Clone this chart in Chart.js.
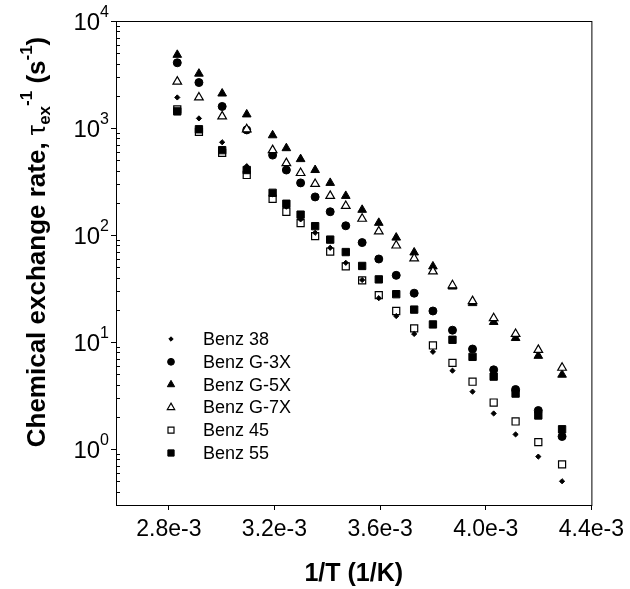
<!DOCTYPE html>
<html>
<head>
<meta charset="utf-8">
<script src="https://cdn.jsdelivr.net/npm/chart.js@4"></script>
<style>
  html, body { margin: 0; padding: 0; background: #fff; }
</style>
</head>
<body>
<canvas id="chart" width="630" height="589"></canvas>
<script>
// 1/T values (1/K), one per measured temperature
const invT = [2.832e-3, 2.914e-3, 3.002e-3, 3.095e-3, 3.193e-3, 3.245e-3, 3.299e-3, 3.354e-3, 3.411e-3, 3.470e-3,
  3.532e-3, 3.595e-3, 3.661e-3, 3.729e-3, 3.800e-3, 3.874e-3, 3.950e-3, 4.030e-3, 4.113e-3, 4.199e-3, 4.289e-3];

// exchange rates (s^-1)
const benz38 = [1930, 1230, 736, 440, 240, 184, 140, 105, 76, 55, 38, 25.7, 17.5, 11.9, 8.1, 5.4, 3.44, 2.15, 1.37, 0.85, 0.50];
const benzG3X = [4070, 2660, 1590, 960, 558, 405, 307, 227, 165, 122, 85, 59.7, 42, 28.6, 19.5, 12.9, 8.6, 5.5, 3.6, 2.29, 1.31];
const benzG5X = [4830, 3220, 2100, 1340, 855, 648, 512, 405, 307, 232, 172, 130, 94.6, 68.7, 50.9, 33, 23.1, 15.4, 10.9, 7.43, 4.95];
const benzG7X = [2715, 1930, 1284, 973, 621, 470, 380, 300, 232, 187, 142, 108, 79.8, 60.4, 45.7, 33.9, 24.1, 16.7, 11.9, 8.45, 5.75];
const benz45 = [1490, 920, 585, 364, 218, 165, 129, 97.7, 70.1, 50.9, 37.7, 27.4, 19.5, 13.4, 9.29, 6.39, 4.26, 2.72, 1.81, 1.16, 0.72];
const benz55 = [1430, 973, 621, 405, 248, 196, 155, 121, 90.6, 69.3, 51.4, 38.5, 28, 20.1, 14.6, 10.5, 7.27, 4.75, 3.30, 2.06, 1.53];

const labels = ['Benz 38', 'Benz G-3X', 'Benz G-5X', 'Benz G-7X', 'Benz 45', 'Benz 55'];
const xTicks = [2.8e-3, 3.2e-3, 3.6e-3, 4.0e-3, 4.4e-3];
const yTicks = [1, 10, 100, 1000, 10000];
const yExp = ['0', '1', '2', '3', '4'];

const FONT = 'Arial, "Liberation Sans", Helvetica, sans-serif';

const styles = [
  { pointStyle: 'rectRot', radius: 2.6, bg: '#000', bw: 1, order: 0 },
  { pointStyle: 'circle', radius: 4, bg: '#000', bw: 1, order: 3 },
  { pointStyle: 'triangle', radius: 5, bg: '#000', bw: 1, order: 2 },
  { pointStyle: 'triangle', radius: 5, bg: '#fff', bw: 1.2, order: 1 },
  { pointStyle: 'rect', radius: 5, bg: '#fff', bw: 1.2, order: 5 },
  { pointStyle: 'rect', radius: 5.2, bg: '#000', bw: 1, order: 4 }
];
const series = [benz38, benzG3X, benzG5X, benzG7X, benz45, benz55];

const datasets = series.map((vals, i) => ({
  label: labels[i],
  data: vals.map((v, j) => ({ x: invT[j], y: v })),
  pointStyle: styles[i].pointStyle,
  pointRadius: styles[i].radius,
  pointBackgroundColor: styles[i].bg,
  pointBorderColor: '#000',
  pointBorderWidth: styles[i].bw,
  showLine: false,
  order: styles[i].order
}));

function richText(ctx, parts) {
  let w = 0;
  parts.forEach(p => { ctx.font = p.font; p.w = ctx.measureText(p.t).width; w += p.w; });
  let x = -w / 2;
  parts.forEach(p => {
    ctx.font = p.font;
    ctx.fillText(p.t, x, p.dy || 0);
    x += p.w;
  });
}

const decor = {
  id: 'decor',
  afterDraw(chart) {
    const ctx = chart.ctx;
    const a = chart.chartArea;
    const ys = chart.scales.y;
    ctx.save();
    ctx.strokeStyle = '#000';
    ctx.lineWidth = 1;
    ctx.strokeRect(a.left + 0.5, a.top + 0.5, a.right - a.left, a.bottom - a.top);

    // minor log ticks, inward
    ctx.beginPath();
    for (let k = -1; k < 4; k++) {
      for (let m = 2; m < 10; m++) {
        const v = m * Math.pow(10, k);
        if (v < ys.min || v > ys.max) continue;
        const py = Math.round(ys.getPixelForValue(v)) + 0.5;
        ctx.moveTo(a.left, py);
        ctx.lineTo(a.left + 4, py);
      }
    }
    ctx.stroke();

    // y tick labels 10^n
    ctx.fillStyle = '#000';
    ctx.textBaseline = 'middle';
    yTicks.forEach((v, i) => {
      const py = ys.getPixelForValue(v);
      ctx.font = '16px ' + FONT;
      const ew = ctx.measureText(yExp[i]).width;
      ctx.textAlign = 'right';
      ctx.fillText(yExp[i], 109, py - 8);
      ctx.font = '24px ' + FONT;
      ctx.fillText('10', 109 - ew, py + 2);
    });

    // y title
    ctx.save();
    ctx.translate(45, 242);
    ctx.rotate(-Math.PI / 2);
    ctx.textAlign = 'left';
    ctx.textBaseline = 'alphabetic';
    const B = 'bold 26px ' + FONT, S = 'bold 17px ' + FONT;
    richText(ctx, [
      { t: 'Chemical exchange rate, ', font: B },
      { t: '\u03c4', font: '26px ' + FONT },
      { t: 'ex', font: S, dy: 5 },
      { t: '-1', font: S, dy: -13 },
      { t: ' (s', font: B },
      { t: '-1', font: S, dy: -13 },
      { t: ')', font: B }
    ]);
    ctx.restore();

    // x title
    ctx.font = 'bold 25px ' + FONT;
    ctx.textAlign = 'center';
    ctx.textBaseline = 'middle';
    ctx.fillText('1/T (1/K)', (a.left + a.right) / 2, 574);

    // legend
    ctx.font = '18px ' + FONT;
    ctx.textAlign = 'left';
    labels.forEach((lab, i) => {
      const ly = 339 + i * 22.8;
      const st = styles[i];
      ctx.fillStyle = st.bg;
      ctx.strokeStyle = '#000';
      ctx.lineWidth = st.bw;
      Chart.helpers.drawPoint(ctx, {
        pointStyle: st.pointStyle,
        radius: st.radius * 0.85,
        rotation: 0,
        borderWidth: st.bw
      }, 171, ly);
      ctx.fillStyle = '#000';
      ctx.fillText(lab, 203, ly + 1);
    });
    ctx.restore();
  }
};

new Chart(document.getElementById('chart'), {
  type: 'scatter',
  data: { datasets },
  options: {
    responsive: false,
    animation: false,
    layout: { padding: { left: 0, right: 34, top: 21, bottom: 0 } },
    plugins: { legend: { display: false }, tooltip: { enabled: false } },
    scales: {
      x: {
        type: 'linear',
        min: 2.6e-3,
        max: 4.4e-3,
        afterBuildTicks: s => { s.ticks = xTicks.map(v => ({ value: v })); },
        afterFit: s => { s.height = 84; },
        grid: { drawOnChartArea: false, tickLength: 5, color: '#000' },
        border: { color: '#000' },
        ticks: {
          color: '#000',
          font: { family: FONT, size: 23 },
          padding: 6,
          maxRotation: 0,
          callback: v => (v * 1000).toFixed(1) + 'e-3'
        }
      },
      y: {
        type: 'logarithmic',
        min: 0.32,
        max: 10000,
        afterBuildTicks: s => { s.ticks = yTicks.map(v => ({ value: v })); },
        afterFit: s => { s.width = 116; },
        grid: { drawOnChartArea: false, tickLength: 5, color: '#000' },
        border: { color: '#000' },
        ticks: { display: false }
      }
    }
  },
  plugins: [decor]
});
</script>
</body>
</html>
